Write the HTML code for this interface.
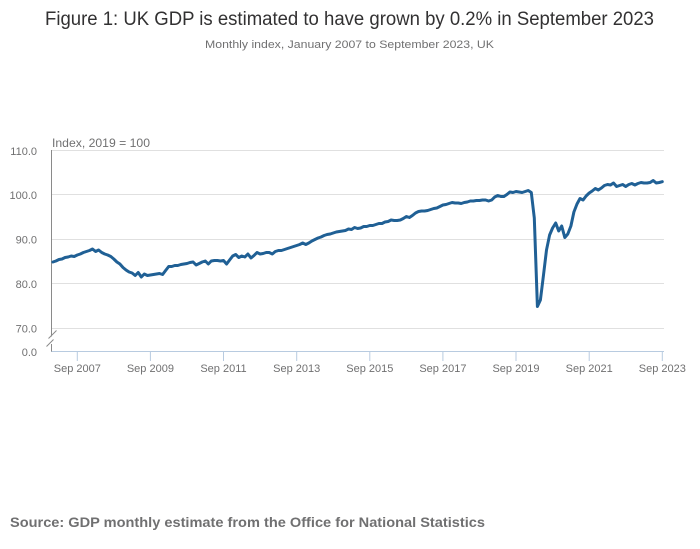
<!DOCTYPE html>
<html><head><meta charset="utf-8"><style>
html,body{margin:0;padding:0;background:#fff;}
svg{display:block;}
text{font-family:"Liberation Sans",Arial,sans-serif;}
</style></head><body>
<svg width="700" height="549" viewBox="0 0 700 549" xmlns="http://www.w3.org/2000/svg">
<rect width="700" height="549" fill="#fff"/>
<text x="45" y="25" font-size="19" fill="#323132" textLength="609" lengthAdjust="spacingAndGlyphs">Figure 1: UK GDP is estimated to have grown by 0.2% in September 2023</text>
<text x="205" y="48" font-size="11" fill="#707071" textLength="289" lengthAdjust="spacingAndGlyphs">Monthly index, January 2007 to September 2023, UK</text>

<g stroke="#e0e0e0" stroke-width="1">
<line x1="52" y1="150.5" x2="664" y2="150.5"/>
<line x1="52" y1="194.5" x2="664" y2="194.5"/>
<line x1="52" y1="239.5" x2="664" y2="239.5"/>
<line x1="52" y1="283.5" x2="664" y2="283.5"/>
<line x1="52" y1="328.5" x2="664" y2="328.5"/>
</g>
<text x="52" y="147" font-size="12" fill="#707071" textLength="98" lengthAdjust="spacingAndGlyphs">Index, 2019 = 100</text>
<g font-size="11" fill="#707071" text-anchor="end">
<text x="37" y="155">110.0</text>
<text x="37" y="199">100.0</text>
<text x="37" y="243.5">90.0</text>
<text x="37" y="288">80.0</text>
<text x="37" y="332.5">70.0</text>
<text x="37" y="356">0.0</text>
</g>
<g stroke="#8a8a8a" stroke-width="1" fill="none">
<line x1="51.5" y1="150" x2="51.5" y2="336.5"/>
<line x1="51.5" y1="344" x2="51.5" y2="352"/>
<line x1="56.5" y1="330.5" x2="48.5" y2="338.5"/>
<line x1="53.5" y1="339.5" x2="46.5" y2="346.5"/>
</g>
<line x1="51.5" y1="351.5" x2="664" y2="351.5" stroke="#b8cbe0" stroke-width="1"/>
<g stroke="#b8cbe0" stroke-width="1">
<line x1="77.3" y1="352" x2="77.3" y2="361"/>
<line x1="150.4" y1="352" x2="150.4" y2="361"/>
<line x1="223.5" y1="352" x2="223.5" y2="361"/>
<line x1="296.7" y1="352" x2="296.7" y2="361"/>
<line x1="369.8" y1="352" x2="369.8" y2="361"/>
<line x1="442.9" y1="352" x2="442.9" y2="361"/>
<line x1="516.0" y1="352" x2="516.0" y2="361"/>
<line x1="589.2" y1="352" x2="589.2" y2="361"/>
<line x1="662.3" y1="352" x2="662.3" y2="361"/>
</g>
<g font-size="11" fill="#707071" text-anchor="middle">
<text x="77.3" y="372">Sep 2007</text>
<text x="150.4" y="372">Sep 2009</text>
<text x="223.5" y="372">Sep 2011</text>
<text x="296.7" y="372">Sep 2013</text>
<text x="369.8" y="372">Sep 2015</text>
<text x="442.9" y="372">Sep 2017</text>
<text x="516.0" y="372">Sep 2019</text>
<text x="589.2" y="372">Sep 2021</text>
<text x="662.3" y="372">Sep 2023</text>
</g>

<polyline fill="none" stroke="#206095" stroke-width="3" stroke-linejoin="round" stroke-linecap="round" points="
52.9,262 55.9,261 59.0,259.5 62.0,259 65.1,257.5 68.1,257 71.2,256 74.2,256.5 77.3,255 80.3,254 83.4,252.5 86.4,251.5
89.5,250.5 92.5,249 95.6,251.5 98.6,250 101.7,252.5 104.7,254 107.7,255 110.8,256.5 113.8,259 116.9,262 119.9,264 123.0,267.5
126.0,270 129.1,272 132.1,273 135.2,275.5 138.2,272.5 141.3,277 144.3,274 147.4,275.5 150.4,275 153.5,274.5 156.5,274 159.5,273.5
162.6,274.5 165.6,270.5 168.7,266.5 171.7,266.5 174.8,265.5 177.8,265.5 180.9,264.5 183.9,264 187.0,263.5 190.0,262.5 193.1,262 196.1,265
199.2,263.5 202.2,262 205.3,261 208.3,264 211.3,261 214.4,260.5 217.4,260.5 220.5,261 223.5,260.5 226.6,264 229.6,260 232.7,256
235.7,254.5 238.8,257.5 241.8,256 244.9,257 247.9,254 251.0,258 254.0,255.5 257.0,252.5 260.1,254 263.1,253.5 266.2,252.5 269.2,252.5
272.3,254 275.3,251.5 278.4,250.5 281.4,250.5 284.5,249.5 287.5,248.5 290.6,247.5 293.6,246.5 296.7,245.5 299.7,244.5 302.7,243 305.8,244.5
308.8,243 311.9,241 314.9,239.5 318.0,238 321.0,237 324.1,235.5 327.1,234.5 330.2,234 333.2,233 336.3,232 339.3,231.5 342.4,231
345.4,230.5 348.5,229 351.5,229.5 354.6,227.5 357.6,228.5 360.6,228 363.7,226.5 366.7,226.5 369.8,225.5 372.8,225.5 375.9,224.5 378.9,223.5
382.0,223.5 385.0,222 388.1,221.5 391.1,220 394.2,220.5 397.2,220.5 400.3,220 403.3,218.5 406.4,216.5 409.4,217.5 412.4,215.5 415.5,213
418.5,211.5 421.6,211 424.6,211 427.7,210.5 430.7,209.5 433.8,208.5 436.8,208 439.9,206.5 442.9,205 446.0,204.5 449.0,203.5 452.1,202.5
455.1,203 458.2,203 461.2,203.5 464.2,202.5 467.3,202 470.3,201 473.4,201 476.4,200.5 479.5,200.5 482.5,200 485.6,200 488.6,201
491.7,200 494.7,197 497.8,195.5 500.8,196.5 503.9,196.5 506.9,194.5 509.9,192 513.0,192.5 516.0,191.5 519.1,192 522.1,192.5 525.2,191.5
528.2,190.5 531.3,192.5 534.3,218 537.4,306.5 540.4,300 543.5,275 546.5,250 549.6,235 552.6,228 555.7,223 558.7,231 561.7,226
564.8,237.5 567.8,234 570.9,226 573.9,212 577.0,204 580.0,198.5 583.1,200 586.1,196 589.2,193 592.2,191 595.3,188.5 598.3,190
601.4,188 604.4,185.5 607.5,184.5 610.5,185 613.5,183 616.6,186.5 619.6,185.5 622.7,184.5 625.7,186.5 628.8,184.5 631.8,183.5 634.9,185
637.9,183.5 641.0,182.5 644.0,183 647.1,183 650.1,182.5 653.2,180.5 656.2,183 659.3,182.5 662.3,181.7"/>

<text x="10" y="527" font-size="14" font-weight="bold" fill="#707071" textLength="475" lengthAdjust="spacingAndGlyphs">Source: GDP monthly estimate from the Office for National Statistics</text>
</svg>
</body></html>
